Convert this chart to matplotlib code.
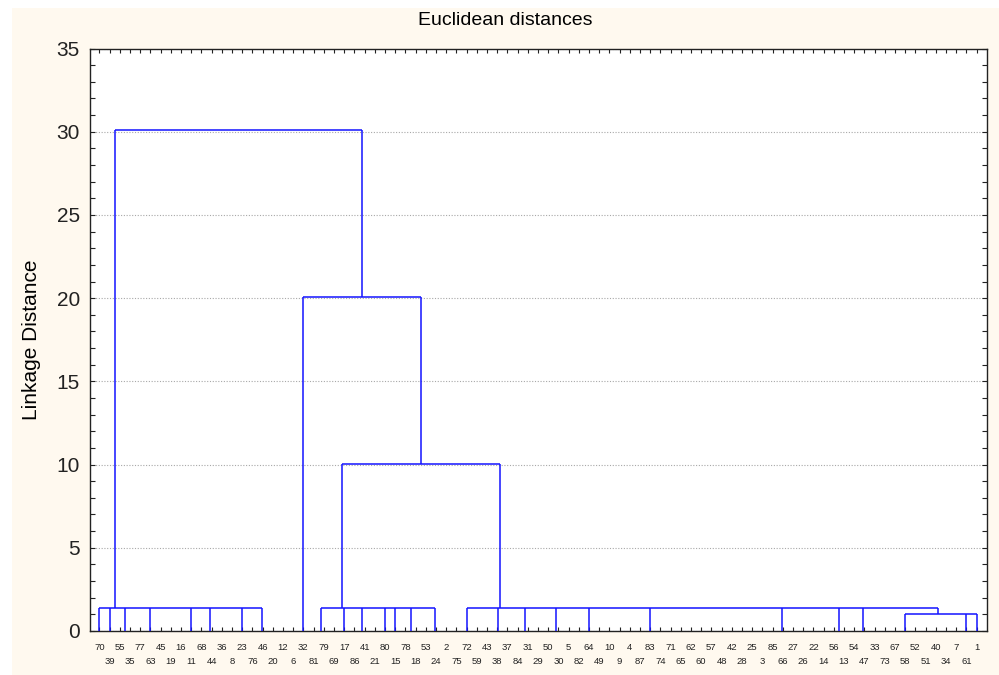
import matplotlib
matplotlib.use('Agg')
import matplotlib.pyplot as plt
from matplotlib.patches import Rectangle
from matplotlib.ticker import MultipleLocator

plt.rcParams['font.family'] = ['Liberation Sans', 'DejaVu Sans']

# leaf order along the x axis (case numbers)
leaf_labels = [70, 39, 55, 35, 77, 63, 45, 19, 16, 11, 68, 44, 36, 8, 23, 76, 46, 20, 12, 6,
               32, 81, 79, 69, 17, 86, 41, 21, 80, 15, 78, 18, 53, 24, 2, 75, 72, 59, 43, 38,
               37, 84, 31, 29, 50, 30, 5, 82, 64, 49, 10, 9, 4, 87, 83, 74, 71, 65, 62, 60,
               57, 48, 42, 28, 25, 3, 85, 66, 27, 26, 22, 14, 56, 13, 54, 47, 33, 73, 67, 58,
               52, 51, 40, 34, 7, 61, 1]

# identical cases (joined at distance 0), in amalgamation order -> ids 0..27
tie_groups = [
    [70], [39], [35, 55], [16, 19, 45, 63, 77], [11], [8, 36, 44, 68], [23],
    [6, 12, 20, 46, 76],
    [32],
    [69, 79, 81], [17], [21, 41, 86], [80], [15], [18, 78], [75, 2, 24, 53],
    [72], [59, 43, 38, 37], [29, 31, 84], [5, 30, 50], [4, 9, 10, 49, 64, 82],
    [3, 25, 28, 42, 48, 57, 60, 62, 65, 71, 74, 83, 87], [14, 22, 26, 27, 66, 85],
    [13, 56], [73, 33, 47, 54],
    [7, 34, 40, 51, 52, 58, 67], [61], [1],
]

# later joins (new ids 28, 29, ...): linkage distance and members in amalgamation order
join_heights = [1.0, 1.41, 1.41, 1.41, 10.05, 20.07, 30.1]
join_members = [
    [27, 26, 25],
    [7, 6, 5, 4, 3, 2, 1, 0],
    [15, 14, 13, 12, 11, 10, 9],
    [28, 24, 23, 22, 21, 20, 19, 18, 17, 16],
    [31, 30],
    [32, 8],
    [33, 29],
]

line_color = '#1414ff'
cream = '#fff9ef'

fig = plt.figure(figsize=(9.99, 6.75), dpi=100)
fig.patch.set_facecolor('white')
fig.patches.append(Rectangle((12 / 999, 0), 1, 1 - 8 / 675, transform=fig.transFigure,
                             facecolor=cream, edgecolor='none', zorder=-10))

ax = fig.add_axes([0.0896, 0.0652, 0.8987, 0.8629])
ax.set_facecolor('white')

# layout: leaf i sits at x = i, a join sits midway between its parts
pos = {lab: i for i, lab in enumerate(leaf_labels)}
node_x, node_h = [], []
for grp in tie_groups:
    x = pos[grp[0]]
    for lab in grp[1:]:
        x = (x + pos[lab]) / 2
    node_x.append(x)
    node_h.append(0.0)

for h, members in zip(join_heights, join_members):
    xs = [node_x[m] for m in members]
    for m in members:
        ax.plot([node_x[m], node_x[m]], [node_h[m], h], color=line_color, lw=1.1,
                solid_capstyle='butt', zorder=3)
    ax.plot([min(xs), max(xs)], [h, h], color=line_color, lw=1.1,
            solid_capstyle='butt', zorder=3)
    x = xs[0]
    for v in xs[1:]:
        x = (x + v) / 2
    node_x.append(x)
    node_h.append(h)

ax.set_xlim(-0.97, 87.05)
ax.set_ylim(0, 35)

ax.set_xticks(range(0, len(leaf_labels), 2), labels=leaf_labels[0::2])
ax.set_xticks(range(1, len(leaf_labels), 2), labels=leaf_labels[1::2], minor=True)
ax.tick_params(axis='x', which='both', direction='in', length=3, width=0.8, top=True,
               labelsize=6.8, colors='#222222')
ax.tick_params(axis='x', which='major', pad=9)
ax.tick_params(axis='x', which='minor', pad=19)

ax.yaxis.set_major_locator(MultipleLocator(5))
ax.yaxis.set_minor_locator(MultipleLocator(1))
ax.tick_params(axis='y', which='both', direction='in', length=3.5, width=0.8, right=True,
               labelsize=15, pad=7, colors='#222222')

ax.grid(axis='y', which='major', linestyle=(0, (1, 1.5)), color='#a8a8a8', lw=0.8, zorder=1)
for s in ax.spines.values():
    s.set_color('#222222')
    s.set_linewidth(1.0)

fig.text(0.506, 0.969, 'Euclidean distances', ha='center', va='center', fontsize=14)
fig.text(0.032, 0.497, 'Linkage Distance', rotation=90, ha='center', va='center', fontsize=15)

fig.savefig('out.png', dpi=100, facecolor=fig.get_facecolor())
